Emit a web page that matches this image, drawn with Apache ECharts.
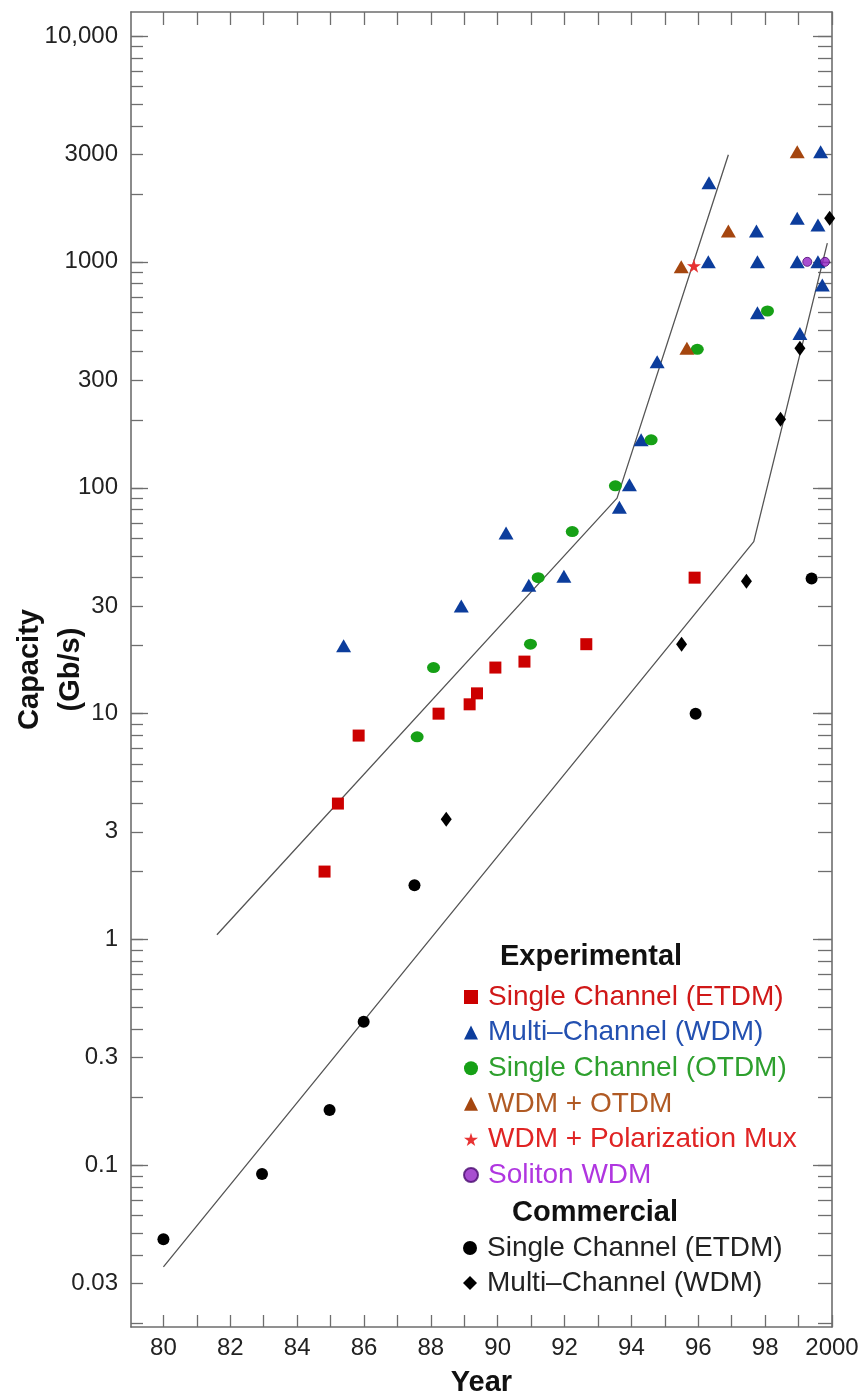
<!DOCTYPE html>
<html><head><meta charset="utf-8">
<script src="https://cdn.jsdelivr.net/npm/echarts@6/dist/echarts.min.js"></script>
<style>html,body{margin:0;padding:0;background:#fff}#c{width:860px;height:1395px}</style>
</head><body><div id="c"></div>
<script>
// ---- tick labels ----
const xTickValues = [80, 82, 84, 86, 88, 90, 92, 94, 96, 98, 100];
const xTickLabels = ['80', '82', '84', '86', '88', '90', '92', '94', '96', '98', '2000'];
const yTickValues = [0.03, 0.1, 0.3, 1, 3, 10, 30, 100, 300, 1000, 3000, 10000];
const yTickLabels = ['0.03', '0.1', '0.3', '1', '3', '10', '30', '100', '300', '1000', '3000', '10,000'];

// ---- data: [year (19xx, 2000 = 100), capacity Gb/s] ----
const expEtdm = [[84.82, 2], [85.22, 4], [85.84, 8], [88.23, 10], [89.16, 11], [89.38, 12.3], [89.93, 16], [90.80, 17], [92.65, 20.3], [95.89, 40]];
const expWdm = [[85.39, 20], [88.91, 30], [90.25, 63], [90.93, 37], [91.98, 40.6], [93.64, 82], [93.94, 103], [94.29, 163], [94.77, 361], [96.32, 2240], [96.30, 1000], [97.74, 1370], [97.77, 1000], [97.77, 595], [98.96, 1560], [98.96, 1000], [99.04, 482], [99.58, 1455], [99.58, 1000], [99.66, 3070], [99.71, 790]];
const expOtdm = [[87.59, 7.9], [88.08, 16], [90.98, 20.3], [91.21, 40], [92.23, 64], [93.52, 102], [94.59, 163], [95.97, 410], [98.07, 606]];
const wdmOtdm = [[95.49, 951], [95.66, 414], [96.90, 1370], [98.96, 3070]];
const wdmPolMux = [[95.87, 961]];
const solitonWdm = [[99.26, 1000], [99.79, 1000]];
const comEtdm = [[80.0, 0.0471], [82.95, 0.0916], [84.97, 0.176], [85.99, 0.433], [87.51, 1.74], [95.92, 10.0], [99.39, 39.7]];
const comWdm = [[88.46, 3.41], [95.50, 20.3], [97.44, 38.6], [98.46, 201], [99.04, 414], [99.93, 1559]];
const trendExperimental = [[81.60, 1.05], [93.57, 90], [96.90, 2980]];
const trendCommercial = [[80.0, 0.0356], [97.66, 57.7], [99.86, 1210]];

// ---- helpers ----
const FONT = 'Liberation Sans';
const L = v => Math.log10(v);
const toLog = arr => arr.map(p => [p[0], L(p[1])]);
const yLogMin = -1.715, yLogMax = 4.106;
const xMin = 79.03, xMax = 100;
const yLabelLogs = yTickValues.map(L);
const yearTicks = []; for (let y = 80; y <= 100; y++) yearTicks.push(y);
const minorLogs = []; const decadeLogs = [];
for (let d = -2; d <= 4; d++) {
  for (let k = 1; k <= 9; k++) {
    const v = k * Math.pow(10, d);
    const lv = L(v);
    if (lv >= yLogMin && lv <= yLogMax) minorLogs.push(lv);
    if (k === 1 && lv >= yLogMin && lv <= yLogMax) decadeLogs.push(lv);
  }
}
const axisCol = '#6e6e6e';
const lineSt = { color: axisCol, width: 1.6 };
const tickSt = { color: axisCol, width: 1.3 };

const starPath = 'path://M50,0 L61,35 L98,35 L68,57 L79,91 L50,70 L21,91 L32,57 L2,35 L39,35 Z';

function scatter(name, data, symbol, size, color, extra) {
  return Object.assign({
    name, type: 'scatter', data: toLog(data), symbol, symbolSize: size,
    itemStyle: { color, opacity: 1 }, z: 3, xAxisIndex: 0, yAxisIndex: 0
  }, extra || {});
}

const gridBox = { left: 131, top: 12, right: 28, bottom: 68, containLabel: false, outerBoundsMode: 'none' };

const chart = echarts.init(document.getElementById('c'), null, { renderer: 'canvas' });
chart.setOption({
  animation: false,
  backgroundColor: '#fff',
  textStyle: { fontFamily: FONT },
  grid: [Object.assign({}, gridBox), Object.assign({}, gridBox)],
  xAxis: [
    {
      gridIndex: 0, type: 'value', min: xMin, max: xMax, position: 'bottom',
      axisLine: { onZero: false, lineStyle: lineSt },
      axisTick: { inside: true, length: 12, lineStyle: tickSt, customValues: yearTicks },
      axisLabel: {
        customValues: xTickValues, margin: 9, fontSize: 24, color: '#222', fontFamily: FONT,
        formatter: v => { const i = xTickValues.findIndex(t => Math.abs(t - v) < 1e-6); return i >= 0 ? xTickLabels[i] : ''; }
      },
      splitLine: { show: false },
      name: 'Year', nameLocation: 'middle', nameGap: 41, nameMoveOverlap: false,
      nameTextStyle: { fontSize: 29, fontWeight: 'bold', color: '#111', fontFamily: FONT }
    },
    {
      gridIndex: 0, type: 'value', min: xMin, max: xMax, position: 'top',
      axisLine: { onZero: false, lineStyle: lineSt },
      axisTick: { inside: true, length: 13, lineStyle: tickSt, customValues: yearTicks },
      axisLabel: { show: false }, splitLine: { show: false }
    },
    { gridIndex: 1, type: 'value', min: xMin, max: xMax, show: false, axisLine: { onZero: false } }
  ],
  yAxis: [
    {
      gridIndex: 0, type: 'value', min: yLogMin, max: yLogMax, position: 'left',
      axisLine: { onZero: false, lineStyle: lineSt },
      axisTick: { inside: true, length: 12, lineStyle: tickSt, customValues: minorLogs },
      axisLabel: {
        customValues: yLabelLogs, margin: 13, fontSize: 24, color: '#222', fontFamily: FONT,
        formatter: v => { const i = yLabelLogs.findIndex(t => Math.abs(t - v) < 1e-6); return i >= 0 ? yTickLabels[i] : ''; }
      },
      splitLine: { show: false },
      name: 'Capacity\n(Gb/s)', nameLocation: 'middle', nameRotate: 90, nameGap: 40, nameMoveOverlap: false,
      nameTextStyle: { fontSize: 29, fontWeight: 'bold', color: '#111', lineHeight: 41, fontFamily: FONT }
    },
    {
      gridIndex: 0, type: 'value', min: yLogMin, max: yLogMax, position: 'right',
      axisLine: { onZero: false, lineStyle: lineSt },
      axisTick: { inside: true, length: 14, lineStyle: tickSt, customValues: minorLogs },
      axisLabel: { show: false }, splitLine: { show: false }
    },
    {
      gridIndex: 1, type: 'value', min: yLogMin, max: yLogMax, position: 'left',
      axisLine: { show: false, onZero: false },
      axisTick: { inside: true, length: 17, lineStyle: tickSt, customValues: decadeLogs },
      axisLabel: { show: false }, splitLine: { show: false }
    },
    {
      gridIndex: 1, type: 'value', min: yLogMin, max: yLogMax, position: 'right',
      axisLine: { show: false, onZero: false },
      axisTick: { inside: true, length: 19, lineStyle: tickSt, customValues: decadeLogs },
      axisLabel: { show: false }, splitLine: { show: false }
    }
  ],
  legend: [
    {
      orient: 'vertical', left: 458, top: 978, itemWidth: 14, itemHeight: 14, itemGap: 7.6,
      selectedMode: false,
      textStyle: { fontSize: 28, lineHeight: 28, fontFamily: FONT, padding: [0, 0, 0, 5] },
      data: [
        { name: 'Single Channel (ETDM)', textStyle: { color: '#d01818' } },
        { name: 'Multi–Channel (WDM)', textStyle: { color: '#2350b0' } },
        { name: 'Single Channel (OTDM)', textStyle: { color: '#2ea02e' } },
        { name: 'WDM + OTDM', textStyle: { color: '#b05a24' } },
        { name: 'WDM + Polarization Mux', textStyle: { color: '#e02424' } },
        { name: 'Soliton WDM', textStyle: { color: '#b036e0' } }
      ]
    },
    {
      orient: 'vertical', left: 458, top: 1229, itemWidth: 14, itemHeight: 14, itemGap: 7,
      selectedMode: false,
      formatter: n => n.replace('Commercial ', ''),
      textStyle: { fontSize: 28, lineHeight: 28, fontFamily: FONT, color: '#222', padding: [0, 0, 0, 5] },
      data: ['Commercial Single Channel (ETDM)', 'Commercial Multi–Channel (WDM)']
    }
  ],
  graphic: [
    { type: 'text', x: 500, y: 957, style: { text: 'Experimental', fill: '#111', font: 'bold 29px "Liberation Sans"', verticalAlign: 'middle' } },
    { type: 'text', x: 512, y: 1213, style: { text: 'Commercial', fill: '#111', font: 'bold 29px "Liberation Sans"', verticalAlign: 'middle' } }
  ],
  series: [
    {
      name: 'trendExp', type: 'line', data: toLog(trendExperimental), symbol: 'none', silent: true, z: 1,
      lineStyle: { color: '#555', width: 1.3 }
    },
    {
      name: 'trendCom', type: 'line', data: toLog(trendCommercial), symbol: 'none', silent: true, z: 1,
      lineStyle: { color: '#555', width: 1.3 }
    },
    scatter('Single Channel (ETDM)', expEtdm, 'rect', 12, '#cc0000'),
    scatter('Multi–Channel (WDM)', expWdm, 'triangle', [15, 13], '#0c3d9c'),
    scatter('Single Channel (OTDM)', expOtdm, 'circle', [13, 11], '#16a016'),
    scatter('WDM + OTDM', wdmOtdm, 'triangle', [15, 13], '#a5460f'),
    scatter('WDM + Polarization Mux', wdmPolMux, starPath, 14, '#e83232'),
    scatter('Soliton WDM', solitonWdm, 'circle', 9, '#9222c4', { itemStyle: { color: '#9222c4', borderColor: '#4a0a70', borderWidth: 1 } }),
    scatter('Commercial Single Channel (ETDM)', comEtdm, 'circle', 12, '#000'),
    scatter('Commercial Multi–Channel (WDM)', comWdm, 'diamond', [11, 15], '#000')
  ]
});
</script>
</body></html>
